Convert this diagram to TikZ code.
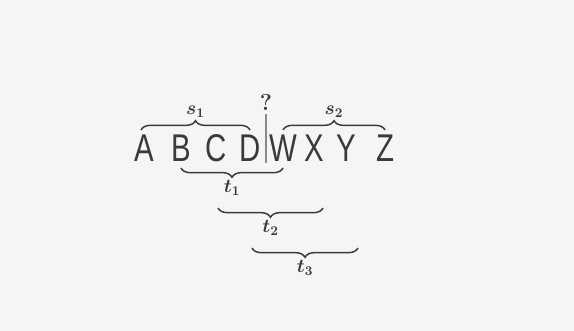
\documentclass[tikz,border=0pt]{standalone}
\usepackage{fontspec}
\setsansfont{Liberation Sans}
\usepackage{graphicx}
\usetikzlibrary{decorations.pathreplacing, calc}
\definecolor{inkpage}{HTML}{F6F4F4}
\definecolor{inkdark}{HTML}{3A3A3A}
\definecolor{inkbar}{HTML}{8A8A8A}
\newcommand{\narrow}[1]{\scalebox{0.76}[1]{#1}}

\begin{document}
\begin{tikzpicture}[x=0.75pt, y=-0.75pt,
    letter/.style={font=\sffamily\fontsize{29}{29}\selectfont, text=inkdark,
                   inner sep=0pt, anchor=base},
    tag/.style={font=\Large\boldmath, text=inkdark, inner sep=1pt},
    overbrace/.style={decorate, decoration={brace, amplitude=7pt},
                      draw=inkdark, line width=1.1pt},
    underbrace/.style={decorate, decoration={brace, amplitude=7pt, mirror},
                       draw=inkdark, line width=1.1pt}]
  \fill[inkpage] (0,0) rectangle (574,331);
  \useasboundingbox (0,0) rectangle (574,331);
  % the two strings
  \node[letter] (a) at (144,162) {\narrow{A}};
  \node[letter] (b) at (181,162) {\narrow{B}};
  \node[letter] (c) at (216,162) {\narrow{C}};
  \node[letter] (d) at (250,162) {\narrow{D}};
  \node[letter] (w) at (283,162) {\narrow{W}};
  \node[letter] (x) at (314,162) {\narrow{X}};
  \node[letter] (y) at (346,162) {\narrow{Y}};
  \node[letter] (z) at (385,162) {\narrow{Z}};
  % cut point
  \node[tag, font=\LARGE\bfseries] (q) at (266,102) {?};
  \coordinate (cut) at (266,163);
  \draw[inkbar, line width=0.9pt, shorten <=2pt] (q.south) -- (cut);
  % brace levels
  \coordinate (top) at (0,130);
  \coordinate (lvl1) at (0,168);
  \coordinate (lvl2) at (0,208);
  \coordinate (lvl3) at (0,248);
  \draw[overbrace] ($(a.base |- top)+(-3,0)$) -- (d.base |- top)
    node[tag, midway, above=8pt] {$s_1$};
  \draw[overbrace] (w.base |- top) -- (z.base |- top)
    node[tag, midway, above=8pt] {$s_2$};
  \draw[underbrace] (b.base |- lvl1) -- (w.base |- lvl1)
    node[tag, midway, below=8pt] {$t_1$};
  \draw[underbrace] ($(c.base |- lvl2)+(2,0)$) -- ($(x.base |- lvl2)+(9,0)$)
    node[tag, midway, below=8pt] {$t_2$};
  \draw[underbrace] ($(d.base |- lvl3)+(2,0)$) -- ($(y.base |- lvl3)+(12,0)$)
    node[tag, midway, below=8pt] {$t_3$};
\end{tikzpicture}
\end{document}
